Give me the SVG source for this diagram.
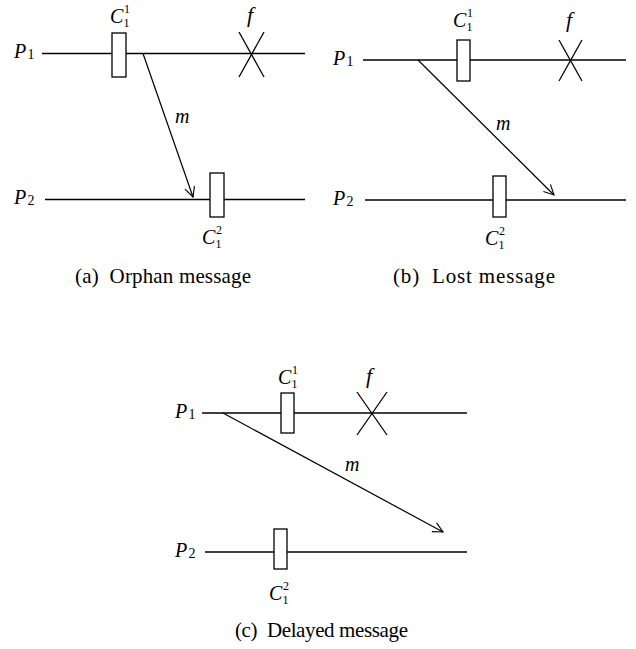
<svg xmlns="http://www.w3.org/2000/svg" width="636" height="649" viewBox="0 0 636 649">
<defs>
<marker id="ah" viewBox="0 0 12 12" refX="11" refY="6" markerWidth="12" markerHeight="12" markerUnits="userSpaceOnUse" orient="auto">
<path d="M1,1 L11,6 L1,11" fill="none" stroke="#000" stroke-width="1.1"/>
</marker>
<style>
.ln{stroke:#000;stroke-width:1.3;fill:none}
.ck{fill:#fff;stroke:#000;stroke-width:1.3}
.it{font-family:"Liberation Serif",serif;font-style:italic;font-size:20px;fill:#000}
.c{font-family:"Liberation Serif",serif;font-style:italic;font-size:20px;fill:#000}
.f{font-family:"Liberation Serif",serif;font-style:italic;font-size:22px;fill:#000}
.sb{font-family:"Liberation Serif",serif;font-size:12px;fill:#000}
.ps{font-family:"Liberation Serif",serif;font-size:14px;fill:#000}
.cap{font-family:"Liberation Serif",serif;font-size:21px;fill:#000}
.msg{stroke:#000;stroke-width:1.2;fill:none}
</style>
</defs>
<rect width="636" height="649" fill="#fff"/>

<!-- Panel (a) -->
<g id="a-P1"><text class="it" x="14" y="58">P</text><text class="ps" x="27.5" y="59">1</text><line class="ln" x1="42" y1="53.5" x2="305" y2="53.5"/></g>
<g id="a-P2"><text class="it" x="14" y="204">P</text><text class="ps" x="27.5" y="205">2</text><line class="ln" x1="45" y1="199.5" x2="305" y2="199.5"/></g>
<g id="a-C11"><rect class="ck" x="112" y="33" width="14" height="44"/><text class="c" x="110" y="23">C</text><text class="sb" x="124" y="13">1</text><text class="sb" x="123.5" y="27">1</text></g>
<g id="a-C12"><rect class="ck" x="210" y="173" width="14" height="44"/><text class="c" x="202" y="244">C</text><text class="sb" x="216" y="234">2</text><text class="sb" x="215.5" y="248">1</text></g>
<g id="a-f"><text class="f" x="247" y="22">f</text><line class="ln" x1="239" y1="32" x2="264" y2="77"/><line class="ln" x1="264" y1="32" x2="239" y2="77"/></g>
<g id="a-cap"><text class="cap" x="75" y="283" xml:space="preserve" textLength="176" lengthAdjust="spacing">(a)  Orphan message</text></g>

<!-- Panel (b) -->
<g id="b-P1"><text class="it" x="333" y="65">P</text><text class="ps" x="346.5" y="66">1</text><line class="ln" x1="363" y1="60" x2="626" y2="60"/></g>
<g id="b-P2"><text class="it" x="333" y="205">P</text><text class="ps" x="346.5" y="206">2</text><line class="ln" x1="365" y1="200" x2="626" y2="200"/></g>
<g id="b-C11"><rect class="ck" x="457" y="40" width="13" height="41"/><text class="c" x="453" y="27">C</text><text class="sb" x="467" y="17">1</text><text class="sb" x="466.5" y="31">1</text></g>
<g id="b-C12"><rect class="ck" x="493" y="176" width="13" height="41"/><text class="c" x="485" y="245">C</text><text class="sb" x="499" y="235">2</text><text class="sb" x="498.5" y="249">1</text></g>
<g id="b-f"><text class="f" x="566" y="27">f</text><line class="ln" x1="559" y1="40" x2="582" y2="81"/><line class="ln" x1="582" y1="40" x2="559" y2="81"/></g>
<g id="b-cap"><text class="cap" x="393" y="283" xml:space="preserve" textLength="162" lengthAdjust="spacing">(b)  Lost message</text></g>

<!-- Panel (c) -->
<g id="c-P1"><text class="it" x="175" y="418">P</text><text class="ps" x="188.5" y="419">1</text><line class="ln" x1="202" y1="413" x2="467" y2="413"/></g>
<g id="c-P2"><text class="it" x="175" y="557">P</text><text class="ps" x="188.5" y="558">2</text><line class="ln" x1="205" y1="552" x2="467" y2="552"/></g>
<g id="c-C11"><rect class="ck" x="281" y="393" width="13" height="40"/><text class="c" x="278" y="384">C</text><text class="sb" x="292" y="374">1</text><text class="sb" x="291.5" y="388">1</text></g>
<g id="c-C12"><rect class="ck" x="274" y="529" width="13" height="40"/><text class="c" x="269" y="600">C</text><text class="sb" x="283" y="590">2</text><text class="sb" x="282.5" y="604">1</text></g>
<g id="c-f"><text class="f" x="366" y="383">f</text><line class="ln" x1="357" y1="392" x2="387" y2="435"/><line class="ln" x1="387" y1="392" x2="357" y2="435"/></g>
<g id="c-cap"><text class="cap" x="235" y="637" xml:space="preserve" textLength="173" lengthAdjust="spacing">(c)  Delayed message</text></g>

<!-- Connectors -->
<g id="connectors">
<line class="msg" x1="143" y1="53.5" x2="193" y2="197" marker-end="url(#ah)"/>
<text class="it" x="175" y="123">m</text>
<line class="msg" x1="418" y1="60" x2="554" y2="195" marker-end="url(#ah)"/>
<text class="it" x="496" y="130">m</text>
<line class="msg" x1="223" y1="413" x2="443" y2="532" marker-end="url(#ah)"/>
<text class="it" x="345" y="471">m</text>
</g>
</svg>
